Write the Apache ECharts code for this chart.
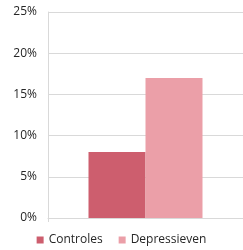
<!DOCTYPE html>
<html>
<head>
<meta charset="utf-8">
<script src="https://cdn.jsdelivr.net/npm/echarts@6/dist/echarts.min.js"></script>
<style>
  html, body { margin: 0; padding: 0; background: #fff; }
  #chart { width: 243px; height: 250px; }
</style>
</head>
<body>
<div id="chart"></div>
<script>
  // data
  const categories = [''];
  const seriesNames = ['Controles', 'Depressieven'];
  const controles = [8];
  const depressieven = [17];
  const yTicks = [0, 5, 10, 15, 20, 25];

  const myChart = echarts.init(document.getElementById('chart'));
  const option = {
    animation: false,
    textStyle: { fontFamily: 'Open Sans' },
    grid: { left: 48, right: -3, top: 12, bottom: 32 },
    legend: {
      data: seriesNames,
      bottom: -1,
      left: 'center',
      itemWidth: 7,
      itemHeight: 7,
      itemGap: 16,
      icon: 'rect',
      textStyle: { fontSize: 12, color: '#262626' }
    },
    xAxis: {
      type: 'category',
      data: categories,
      axisLine: { lineStyle: { color: '#d9d9d9' } },
      axisTick: { show: true, length: 4, lineStyle: { color: '#d9d9d9' } },
      axisLabel: { show: false }
    },
    yAxis: {
      type: 'value',
      min: yTicks[0],
      max: yTicks[yTicks.length - 1],
      interval: 5,
      axisLine: { show: true, lineStyle: { color: '#d9d9d9' } },
      axisTick: { show: false },
      splitLine: { lineStyle: { color: '#d9d9d9' } },
      axisLabel: { formatter: '{value}%', fontSize: 12, color: '#262626', margin: 11 }
    },
    series: [
      {
        name: seriesNames[0],
        type: 'bar',
        data: controles,
        barWidth: 57,
        barGap: '0%',
        itemStyle: { color: '#cd5e6e' }
      },
      {
        name: seriesNames[1],
        type: 'bar',
        data: depressieven,
        barWidth: 57,
        itemStyle: { color: '#eb9fa8' }
      }
    ]
  };
  myChart.setOption(option);
</script>
</body>
</html>
